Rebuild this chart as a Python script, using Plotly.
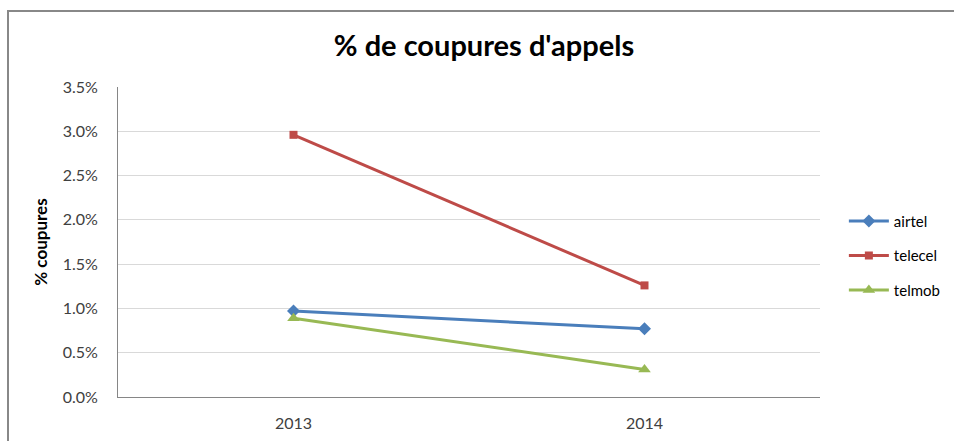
import plotly.graph_objects as go

years = ["2013", "2014"]
airtel = [0.0097, 0.0077]
telecel = [0.0296, 0.0126]
telmob = [0.0089, 0.0031]
y_ticks = [0, 0.005, 0.01, 0.015, 0.02, 0.025, 0.03, 0.035]

series = [
    ("airtel", airtel, "#4A7EBB", "diamond", 10),
    ("telecel", telecel, "#BE4B48", "square", 8),
    ("telmob", telmob, "#98B954", "triangle-up", 11),
]

fig = go.Figure()
for i, (name, vals, color, sym, sz) in enumerate(series):
    fig.add_trace(go.Scatter(
        x=years, y=vals, name=name, mode="lines+markers",
        line=dict(color=color, width=3),
        marker=dict(symbol=sym, size=sz, color=color),
        legendgroup=name,
    ))

ff = "Lato, Liberation Sans, Arial"
fig.update_layout(
    width=954, height=441,
    margin=dict(l=118, r=134, t=87, b=44, autoexpand=False),
    paper_bgcolor="white", plot_bgcolor="white",
    font=dict(family=ff, size=16, color="#404040"),
    title=dict(text="<b>% de coupures d'appels</b>", x=484 / 954, xref="container", xanchor="center",
               y=1 - 46 / 441, yref="container", yanchor="middle",
               font=dict(size=29, color="black", family=ff)),
    showlegend=True,
    legend=dict(x=1.034, xanchor="left", y=0.456, yanchor="middle",
                font=dict(size=15, color="black", family=ff), traceorder="grouped",
                tracegroupgap=12, itemwidth=40),
    xaxis=dict(type="category", range=[-0.5, 1.5], showgrid=False, automargin=False,
               showline=True, linecolor="#868686", linewidth=1,
               ticks="", ticklabelstandoff=12,
               tickfont=dict(size=16, color="#404040")),
    yaxis=dict(range=[0, 0.035], tickvals=y_ticks, tickformat=".1%", automargin=False,
               showgrid=True, gridcolor="#D9D9D9", gridwidth=1,
               showline=True, linecolor="#868686", linewidth=1,
               zeroline=False, ticks="", ticklabelstandoff=16,
               tickfont=dict(size=16, color="#404040"),
               title=dict(text="<b>% coupures</b>", standoff=10,
                          font=dict(size=17, color="black"))),
)
fig.add_shape(type="rect", xref="paper", yref="paper",
              x0=(8 - 118) / 702, x1=1.25, y0=-0.3, y1=1 + (87 - 11) / 310,
              line=dict(color="#888888", width=2), fillcolor="rgba(0,0,0,0)", layer="below")

fig.write_html("out.html", config={"displayModeBar": False},
               post_script="document.body.style.margin='0';")
